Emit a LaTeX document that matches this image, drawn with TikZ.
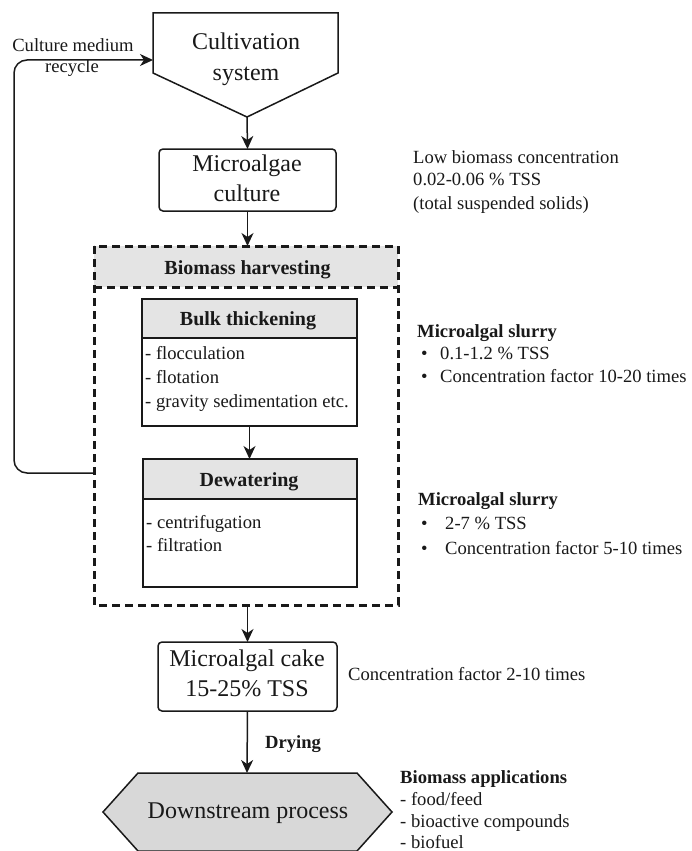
\documentclass[tikz,border=0pt]{standalone}
\usepackage{fontspec}
\setmainfont{Liberation Serif}
\usetikzlibrary{arrows.meta}
\definecolor{hdrgray}{RGB}{228,228,228}
\definecolor{hexgray}{RGB}{216,216,216}
\definecolor{ink}{RGB}{25,25,25}
\begin{document}
\begin{tikzpicture}[x=1pt,y=-1pt,
  ln/.style={line width=1.5pt,draw=ink},
  arr/.style={line width=1.5pt,draw=ink,-{Stealth[length=13pt,width=12pt,inset=4pt]}},
  boxnode/.style={ln,rectangle,inner sep=0pt,outer sep=0pt},
  rbox/.style={boxnode,rounded corners=4pt,fill=white},
  big/.style={font=\fontsize{24}{30}\selectfont,text=ink,inner sep=0pt,anchor=base},
  small/.style={font=\fontsize{18.6}{23}\selectfont,text=ink,inner sep=0pt,anchor=base west},
  smallc/.style={font=\fontsize{18.6}{23}\selectfont,text=ink,inner sep=0pt,anchor=base},
  hdr/.style={font=\fontsize{20}{24}\selectfont\bfseries,text=ink,inner sep=0pt,anchor=base},
  bhdr/.style={font=\fontsize{18.6}{23}\selectfont\bfseries,text=ink,inner sep=0pt,anchor=base west},
  dashbox/.style={line width=3pt,draw=ink,dash pattern=on 8pt off 5pt}
]
\useasboundingbox (0,0) rectangle (692,851);

% Cultivation system (pentagon)
\draw[ln,line join=miter] (153,13) -- (338,13) -- (338,73) -- (247,117) -- (153,73) -- cycle;
\coordinate (cultTip) at (247,117);
\coordinate (cultW) at (153,60);
\node[big] (cultA) at (246,49) {Cultivation};
\node[big] (cultB) at (246,81) {system};

% Culture medium recycle label
\node[smallc] (recA) at (73,52) {Culture medium};
\node[smallc] (recB) at (72,73) {recycle};

% Microalgae culture
\node[rbox,minimum width=177pt,minimum height=62pt] (mc) at (247.5,180) {};
\node[big] (mcA) at (247,171) {Microalgae};
\node[big] (mcB) at (247,201) {culture};

% Low biomass text
\node[small] (lb1) at (413,163) {Low biomass concentration};
\node[small] (lb2) at (413,185) {0.02-0.06 \% TSS};
\node[small] (lb3) at (413,209) {(total suspended solids)};

% Biomass harvesting dashed box
\fill[hdrgray] (94,246) rectangle (398,287);
\node[inner sep=0pt,outer sep=0pt,minimum width=304pt,minimum height=359pt] (harv) at (246,425.5) {};
\draw[dashbox] (94,287) -- (398,287);
\draw[dashbox] (94,246) rectangle (398,605);
\node[hdr] (harvT) at (247.5,274) {Biomass harvesting};

% Bulk thickening
\node[boxnode,fill=white,minimum width=215pt,minimum height=127pt] (bulk) at (249.5,362.5) {};
\fill[hdrgray] (142,299) rectangle (357,338);
\draw[ln] (142,299) rectangle (357,426);
\draw[ln] (142,338) -- (357,338);
\node[hdr] (bulkT) at (248,325) {Bulk thickening};
\node[small] (bulk1) at (145,359) {- flocculation};
\node[small] (bulk2) at (145,383) {- flotation};
\node[small] (bulk3) at (145,407) {- gravity sedimentation etc.};

% Dewatering
\node[boxnode,fill=white,minimum width=214pt,minimum height=128pt] (dew) at (250,523) {};
\fill[hdrgray] (143,459) rectangle (357,499);
\draw[ln] (143,459) rectangle (357,587);
\draw[ln] (143,499) -- (357,499);
\node[hdr] (dewT) at (249,486) {Dewatering};
\node[small] (dew1) at (146,528) {- centrifugation};
\node[small] (dew2) at (146,551) {- filtration};

% Microalgal slurry texts
\node[bhdr] (s1T) at (417,337) {Microalgal slurry};
\node[small] (s1b1) at (421,359) {\textbullet};
\node[small] (s1a) at (440,359) {0.1-1.2 \% TSS};
\node[small] (s1b2) at (421,382) {\textbullet};
\node[small] (s1c) at (440,382) {Concentration factor 10-20 times};

\node[bhdr] (s2T) at (418,505) {Microalgal slurry};
\node[small] (s2b1) at (421,529) {\textbullet};
\node[small] (s2a) at (445,529) {2-7 \% TSS};
\node[small] (s2b2) at (421,554) {\textbullet};
\node[small] (s2c) at (445,554) {Concentration factor 5-10 times};

% Microalgal cake
\node[rbox,minimum width=179pt,minimum height=69pt] (cake) at (247.5,676.5) {};
\node[big] (cakeA) at (247,666) {Microalgal cake};
\node[big] (cakeB) at (247,696) {15-25\% TSS};
\node[small] (cf) at (348,680) {Concentration factor 2-10 times};

% Downstream process hexagon
\draw[ln,fill=hexgray,line join=miter] (138,773) -- (357,773) -- (392,812) -- (357,851) -- (138,851) -- (103,812) -- cycle;
\coordinate (hexTop) at (247,773);
\node[big] (ds) at (248,818) {Downstream process};

% Drying label
\node[bhdr] (dry) at (265,748) {Drying};

% Biomass applications
\node[bhdr] (appT) at (400,783) {Biomass applications};
\node[small] (app1) at (400,805) {- food/feed};
\node[small] (app2) at (400,827) {- bioactive compounds};
\node[small] (app3) at (400,848) {- biofuel};

% Connectors
\draw[arr] (cultTip) -- (mc.north);
\draw[arr] (mc.south) -- (harv.north -| mc.south);
\draw[arr] (bulk.south) -- (dew.north -| bulk.south);
\draw[arr] (harv.south -| cake.north) -- (cake.north);
\draw[arr] (cake.south) -- (hexTop);
\coordinate (rc) at (14,473);
\draw[arr,rounded corners=13pt] (rc -| harv.west) -- (rc) -- (rc |- cultW) -- (cultW);
\end{tikzpicture}
\end{document}
